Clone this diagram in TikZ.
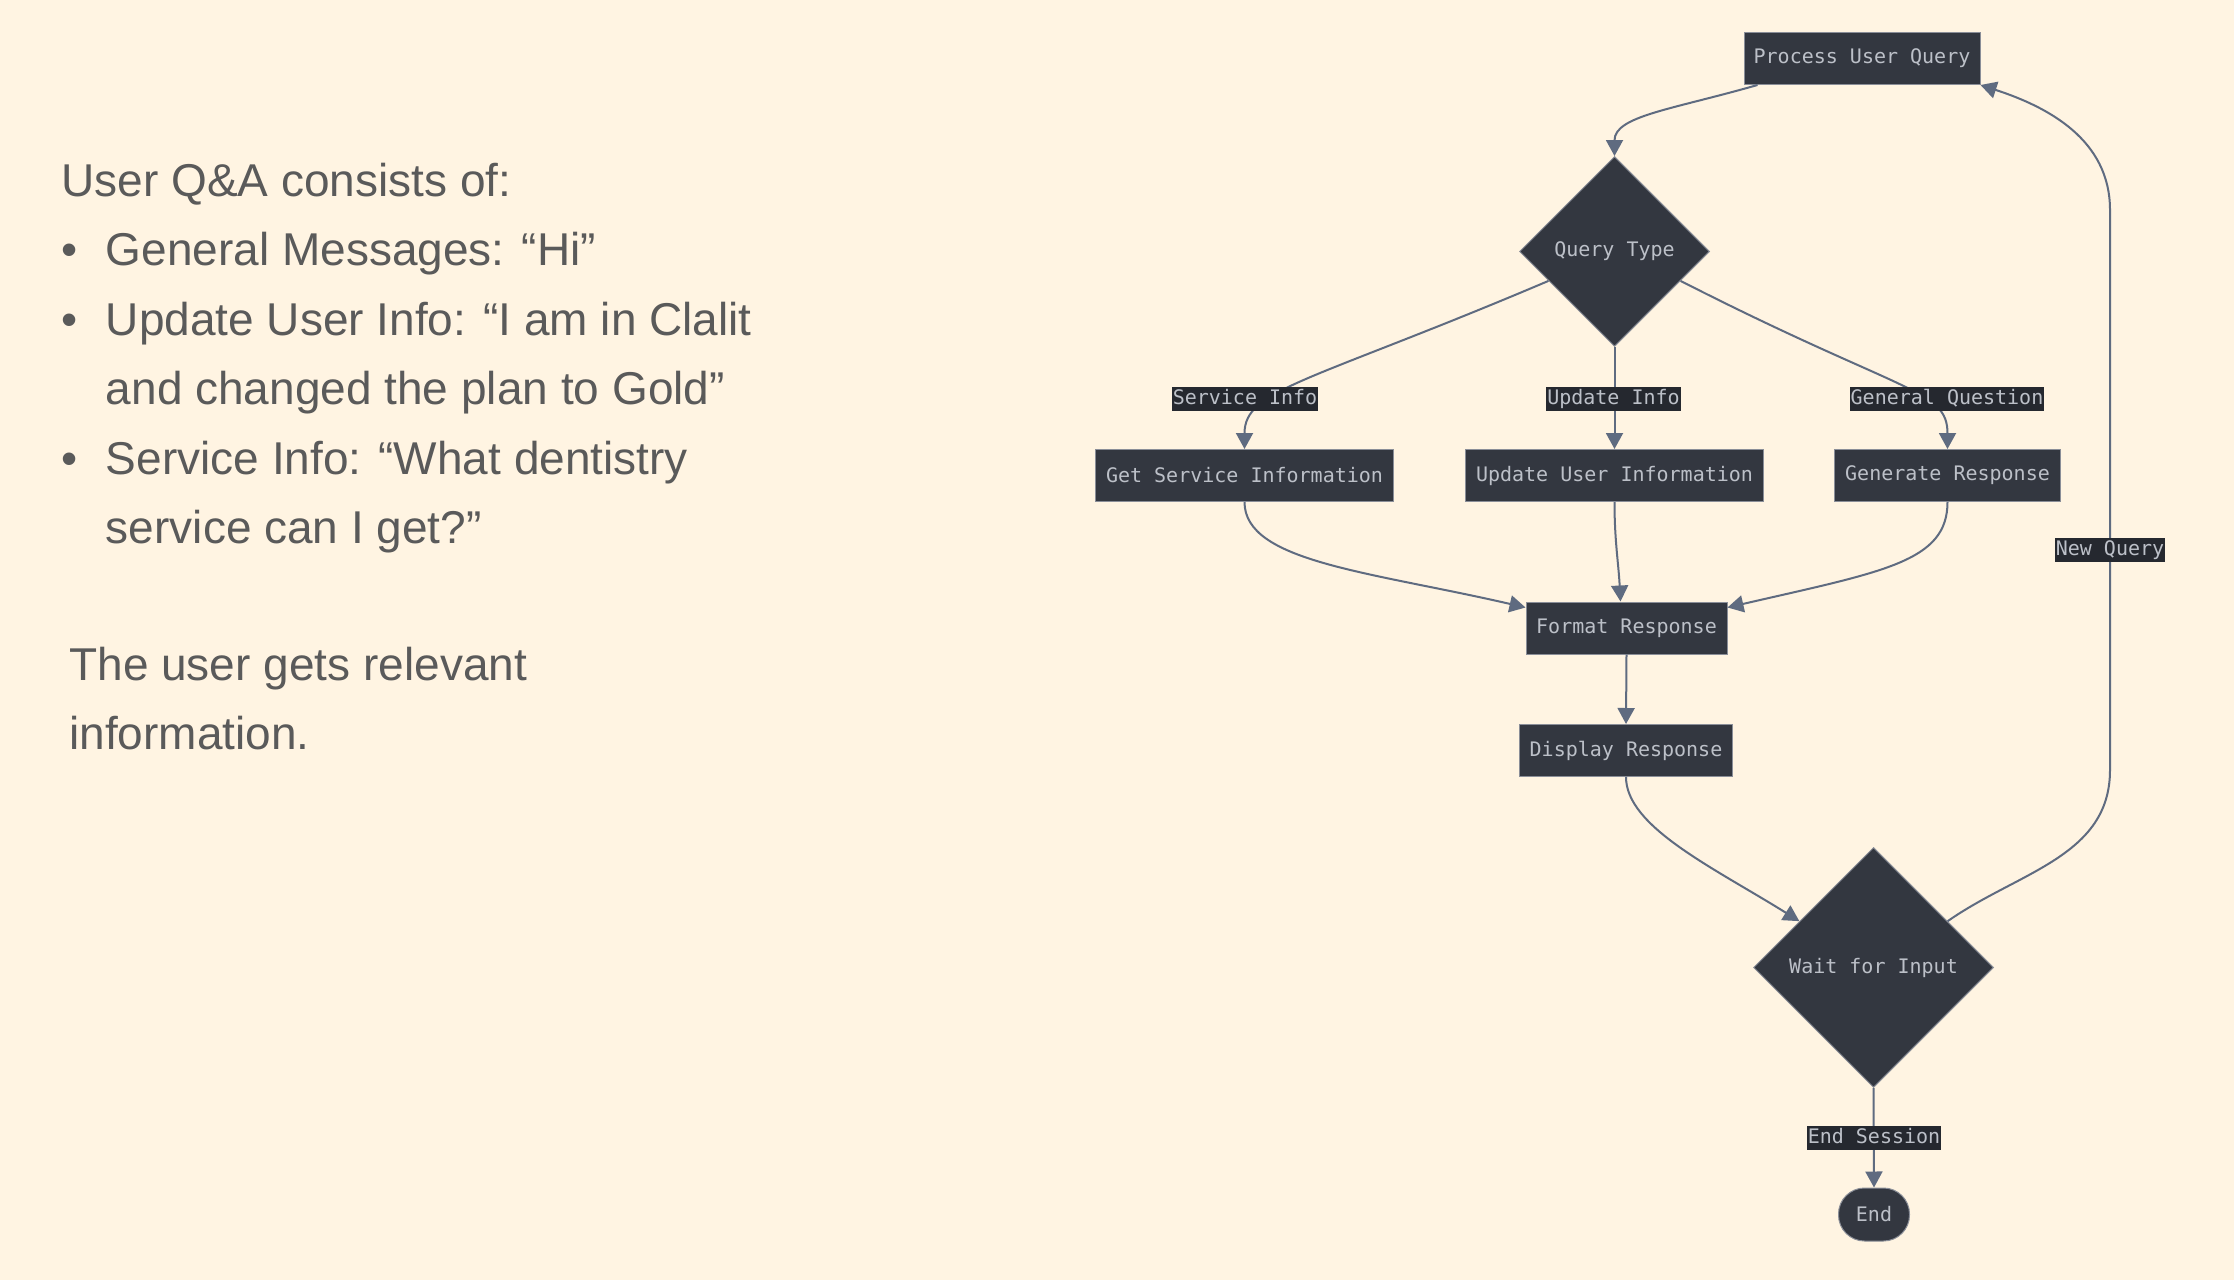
\documentclass[tikz,border=0pt]{standalone}
\usepackage{fontspec}
\setmainfont{Liberation Sans}
\newfontfamily\flowmono{DejaVu Sans Mono}
\usetikzlibrary{shapes.geometric,arrows.meta}

\definecolor{paper}{HTML}{FFF4E2}
\definecolor{boxfill}{HTML}{333740}
\definecolor{boxline}{HTML}{8A8E98}
\definecolor{boxtext}{HTML}{BCC0C8}
\definecolor{flow}{HTML}{5F6B80}
\definecolor{tagfill}{HTML}{25282F}
\definecolor{bodytext}{HTML}{5A5A5A}

\tikzset{
  stepbox/.style={draw=boxline, line width=0.5pt, fill=boxfill, text=boxtext,
    font=\flowmono\fontsize{10}{12}\selectfont, minimum height=26pt, inner sep=0pt},
  choice/.style={diamond, draw=boxline, line width=0.5pt, fill=boxfill, text=boxtext,
    font=\flowmono\fontsize{10}{12}\selectfont, inner sep=0pt},
  stopbox/.style={stepbox, rounded corners=13pt, minimum width=35.5pt, minimum height=26.5pt},
  flowline/.style={draw=flow, line width=1pt, -{Triangle[length=8pt,width=8.5pt]}},
  tag/.style={fill=tagfill, text=boxtext, font=\flowmono\fontsize{10}{12}\selectfont,
    inner xsep=0.5pt, inner ysep=1pt, text height=7.5pt, text depth=2.5pt},
  say/.style={anchor=base west, text=bodytext, font=\fontsize{23}{28}\selectfont, inner sep=0pt}
}

\begin{document}
\begin{tikzpicture}[x=0.5pt,y=0.5pt]
  \fill[paper] (0,0) rectangle (2234,-1280);
  \useasboundingbox (0,0) rectangle (2234,-1280);

  % left column
  \node[say] (intro) at (61,-196) {User Q\&A consists of:};
  \node[say] (dotone) at (61,-265.5) {•};
  \node[say] (itemone) at (105.5,-265.5) {General Messages: “Hi”};
  \node[say] (dottwo) at (61,-335) {•};
  \node[say] (itemtwo) at (105.5,-335) {Update User Info: “I am in Clalit};
  \node[say] (itemtwob) at (105.5,-404.5) {and changed the plan to Gold”};
  \node[say] (dotthree) at (61,-474) {•};
  \node[say] (itemthree) at (105.5,-474) {Service Info: “What dentistry};
  \node[say] (itemthreeb) at (105.5,-543.5) {service can I get?”};
  \node[say] (outro) at (69,-680) {The user gets relevant};
  \node[say] (outrob) at (69,-749.5) {information.};

  % flow chart
  \node[stepbox, minimum width=118pt] (puq) at (1862,-58.5) {Process User Query};
  \node[choice, minimum width=95pt, minimum height=95pt] (qt) at (1614.5,-251.5) {Query Type};
  \node[stepbox, minimum width=149pt] (gsi) at (1244.5,-475.5) {Get Service Information};
  \node[stepbox, minimum width=149pt] (uui) at (1614.5,-475.5) {Update User Information};
  \node[stepbox, minimum width=113pt] (gr) at (1947.5,-475.5) {Generate Response};
  \node[stepbox, minimum width=100.5pt] (fr) at (1626.5,-628) {Format Response};
  \node[stepbox, minimum width=106.5pt] (dr) at (1626,-750.5) {Display Response};
  \node[choice, minimum width=120pt, minimum height=120pt] (wfi) at (1873.5,-967.5) {Wait for Input};
  \node[stopbox] (endnode) at (1874,-1214.5) {End};
  \coordinate (nqlow) at (2110,-770);
  \coordinate (nqhigh) at (2110,-210);

  \draw[flowline] ([xshift=7pt]puq.south west) to[out=196,in=90,out distance=45pt,in distance=20pt] (qt.north);
  \draw[flowline] (qt.204) to[out=203,in=90,out distance=130pt,in distance=30pt] (gsi.north);
  \draw[flowline] (qt.south) -- (uui.north);
  \draw[flowline] (qt.-24) to[out=-27,in=90,out distance=125pt,in distance=30pt] (gr.north);
  \draw[flowline] (gsi.south) to[out=-90,in=167,out distance=30pt,in distance=80pt] ([yshift=-3pt]fr.north west);
  \draw[flowline] (uui.south) to[out=-90,in=93] ([xshift=-3pt]fr.north);
  \draw[flowline] (gr.south) to[out=-90,in=13,out distance=30pt,in distance=80pt] ([yshift=-3pt]fr.north east);
  \draw[flowline] (fr.south) -- (dr.north);
  \draw[flowline] (dr.south) to[out=-90,in=148,out distance=25pt,in distance=50pt] (wfi.148);
  \draw[flowline] (wfi.32) to[out=35,in=-90] (nqlow) -- (nqhigh) to[out=90,in=-18] (puq.south east);
  \draw[flowline] (wfi.south) -- (endnode.north);

  % edge labels
  \node[tag] (tagservice) at (1245,-399) {Service Info};
  \node[tag] (tagupdate) at (1613.5,-399) {Update Info};
  \node[tag] (taggeneral) at (1947,-399) {General Question};
  \node[tag] (tagnew) at (2110,-550) {New Query};
  \node[tag] (tagend) at (1874,-1138) {End Session};
\end{tikzpicture}
\end{document}
